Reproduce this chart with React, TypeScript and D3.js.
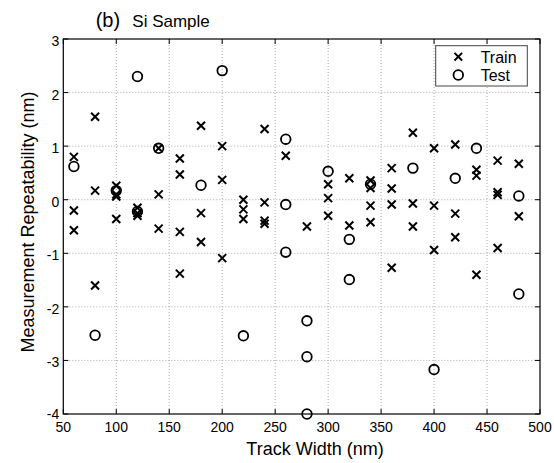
import React from "react";
import * as d3 from "d3";

const trainX = [
  60, 60, 60,
  80, 80, 80,
  100, 100, 100, 100,
  120, 120, 120,
  140, 140, 140,
  160, 160, 160, 160,
  180, 180, 180,
  200, 200, 200,
  220, 220, 220,
  240, 240, 240, 240,
  260,
  280,
  300, 300, 300,
  320, 320,
  340, 340, 340, 340,
  360, 360, 360, 360,
  380, 380, 380,
  400, 400, 400,
  420, 420, 420,
  440, 440, 440,
  460, 460, 460, 460,
  480, 480,
];
const trainY = [
  0.8, -0.2, -0.57,
  1.55, 0.17, -1.6,
  0.26, 0.1, 0.06, -0.36,
  -0.15, -0.25, -0.3,
  0.96, 0.1, -0.54,
  0.77, 0.47, -0.6, -1.38,
  1.38, -0.25, -0.79,
  1.0, 0.37, -1.09,
  0.0, -0.18, -0.36,
  1.32, -0.05, -0.39, -0.45,
  0.82,
  -0.5,
  0.29, 0.03, -0.3,
  0.4, -0.48,
  0.36, 0.22, -0.11, -0.42,
  0.59, 0.21, -0.09, -1.27,
  1.25, -0.07, -0.5,
  0.96, -0.11, -0.94,
  1.03, -0.26, -0.7,
  0.56, 0.45, -1.4,
  0.73, 0.14, 0.09, -0.9,
  0.67, -0.31,
];
const testX = [60, 80, 100, 120, 120, 140, 180, 200, 220, 260, 260, 260, 280, 280, 280, 300, 320, 320, 340, 380, 400, 420, 440, 480, 480];
const testY = [0.62, -2.53, 0.17, 2.3, -0.22, 0.96, 0.27, 2.41, -2.54, 1.13, -0.09, -0.98, -2.26, -2.93, -4.0, 0.53, -0.74, -1.49, 0.29, 0.59, -3.17, 0.4, 0.96, 0.07, -1.76];

const xTicks = [50, 100, 150, 200, 250, 300, 350, 400, 450, 500];
const yTicks = [3, 2, 1, 0, -1, -2, -3, -4];

const W = 554;
const H = 463;
const M = { left: 63.3, top: 39, right: 540, bottom: 414 };
const FONT = "'Liberation Sans', Arial, Helvetica, sans-serif";

const x = d3.scaleLinear().domain([50, 500]).range([M.left, M.right]);
const y = d3.scaleLinear().domain([-4, 3]).range([M.bottom, M.top]);

function Cross({ cx, cy, s = 4 }: { cx: number; cy: number; s?: number }) {
  const p = d3.path();
  p.moveTo(cx - s, cy - s);
  p.lineTo(cx + s, cy + s);
  p.moveTo(cx - s, cy + s);
  p.lineTo(cx + s, cy - s);
  return <path d={p.toString()} stroke="#000" strokeWidth={2} fill="none" />;
}

export default function App() {
  const tick = 5;
  return (
    <svg
      width={W}
      height={H}
      style={{ position: "absolute", left: 0, top: 0, background: "#fff" }}
      fontFamily={FONT}
    >
      <rect x={0} y={0} width={W} height={H} fill="#fff" />
      {/* grid */}
      {xTicks.slice(1, -1).map((t) => (
        <line key={"gx" + t} x1={x(t)} x2={x(t)} y1={M.top} y2={M.bottom} stroke="#aaa" strokeWidth={1} strokeDasharray="1,2" />
      ))}
      {yTicks.slice(1, -1).map((t) => (
        <line key={"gy" + t} x1={M.left} x2={M.right} y1={y(t)} y2={y(t)} stroke="#aaa" strokeWidth={1} strokeDasharray="1,2" />
      ))}
      {/* ticks */}
      {xTicks.map((t) => (
        <g key={"tx" + t}>
          <line x1={x(t)} x2={x(t)} y1={M.bottom} y2={M.bottom - tick} stroke="#000" />
          <line x1={x(t)} x2={x(t)} y1={M.top} y2={M.top + tick} stroke="#000" />
          <text x={x(t)} y={M.bottom + 18} textAnchor="middle" fontSize={14} fill="#000">
            {t}
          </text>
        </g>
      ))}
      {yTicks.map((t) => (
        <g key={"ty" + t}>
          <line x1={M.left} x2={M.left + tick} y1={y(t)} y2={y(t)} stroke="#000" />
          <line x1={M.right} x2={M.right - tick} y1={y(t)} y2={y(t)} stroke="#000" />
          <text x={M.left - 4} y={y(t) + (t === -4 ? 5 : 7)} textAnchor="end" fontSize={14} fill="#000">
            {t}
          </text>
        </g>
      ))}
      {/* frame */}
      <rect x={M.left} y={M.top} width={M.right - M.left} height={M.bottom - M.top} fill="none" stroke="#000" strokeWidth={1.2} />
      {/* data */}
      {trainX.map((v, i) => (
        <Cross key={"tr" + i} cx={x(v)} cy={y(trainY[i])} />
      ))}
      {testX.map((v, i) => (
        <circle key={"te" + i} cx={x(v)} cy={y(testY[i])} r={4.8} fill="none" stroke="#000" strokeWidth={1.8} />
      ))}
      {/* legend */}
      <rect x={435.7} y={45.7} width={91.6} height={40.3} fill="#fff" stroke="#444" strokeWidth={1} />
      <Cross cx={458.3} cy={56.7} s={3.8} />
      <circle cx={458.3} cy={75} r={4.8} fill="none" stroke="#000" strokeWidth={1.8} />
      <text x={480.7} y={62.5} fontSize={16} fill="#000">Train</text>
      <text x={480.7} y={81} fontSize={16} fill="#000">Test</text>
      {/* titles */}
      <text x={95.7} y={27} fontSize={20} fill="#000">(b)</text>
      <text x={132.3} y={27} fontSize={17} fill="#000">Si Sample</text>
      <text x={315} y={455} textAnchor="middle" fontSize={18} fill="#000">Track Width (nm)</text>
      <text transform={`translate(34,222) rotate(-90)`} textAnchor="middle" fontSize={18} fill="#000">
        Measurement Repeatability (nm)
      </text>
    </svg>
  );
}
